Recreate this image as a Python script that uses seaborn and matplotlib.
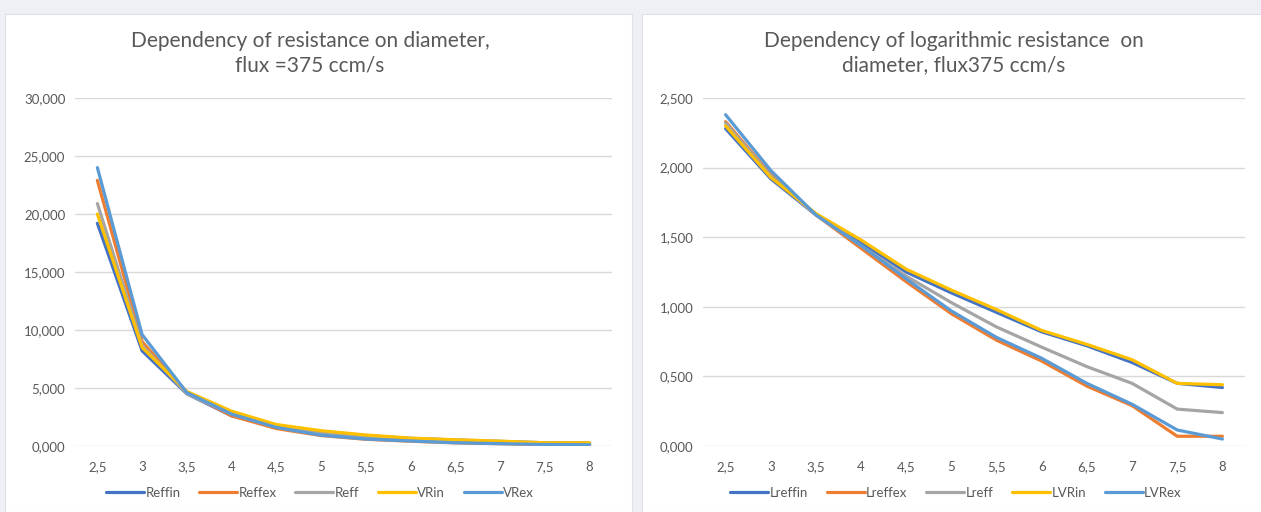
import matplotlib
matplotlib.use("Agg")
import matplotlib.pyplot as plt
from matplotlib.patches import Rectangle
from matplotlib.ticker import FuncFormatter
import seaborn as sns
import pandas as pd

# datos
diametro = [2.5, 3, 3.5, 4, 4.5, 5, 5.5, 6, 6.5, 7, 7.5, 8]
etiquetas_x = ["2,5", "3", "3,5", "4", "4,5", "5", "5,5", "6", "6,5", "7", "7,5", "8"]

reffin = [19.2, 8.2, 4.5, 2.6, 1.7, 1.25, 0.9, 0.66, 0.52, 0.40, 0.28, 0.26]
reffex = [22.9, 9.0, 4.6, 2.6, 1.5, 0.9, 0.58, 0.41, 0.27, 0.20, 0.12, 0.12]
reff = [20.9, 8.7, 4.5, 2.75, 1.65, 1.07, 0.72, 0.51, 0.37, 0.28, 0.18, 0.17]
vrin = [20.0, 8.5, 4.7, 3.0, 1.85, 1.32, 0.95, 0.68, 0.54, 0.42, 0.28, 0.275]
vrex = [24.0, 9.6, 4.6, 2.75, 1.6, 0.93, 0.6, 0.43, 0.28, 0.20, 0.13, 0.11]

lreffin = [2.28, 1.92, 1.66, 1.46, 1.25, 1.10, 0.96, 0.82, 0.72, 0.60, 0.45, 0.42]
lreffex = [2.33, 1.95, 1.66, 1.42, 1.18, 0.95, 0.76, 0.61, 0.43, 0.29, 0.07, 0.07]
lreff = [2.32, 1.94, 1.66, 1.44, 1.22, 1.03, 0.855, 0.71, 0.57, 0.45, 0.265, 0.24]
lvrin = [2.30, 1.93, 1.67, 1.48, 1.27, 1.12, 0.98, 0.83, 0.73, 0.62, 0.45, 0.44]
lvrex = [2.38, 1.98, 1.66, 1.44, 1.20, 0.97, 0.78, 0.63, 0.45, 0.30, 0.115, 0.05]

series_izq = {"Reffin": reffin, "Reffex": reffex, "Reff": reff, "VRin": vrin, "VRex": vrex}
series_der = {"Lreffin": lreffin, "Lreffex": lreffex, "Lreff": lreff, "LVRin": lvrin, "LVRex": lvrex}
colores = ["#4472C4", "#ED7D31", "#A5A5A5", "#FFC000", "#5B9BD5"]

sns.set_style("white")
plt.rcParams["font.family"] = ["Lato", "DejaVu Sans"]
GRIS = "#595959"

W, H = 1261, 512
fig = plt.figure(figsize=(W / 100, H / 100), dpi=100, facecolor="#eef0f5")

# paneles blancos tipo Excel (detras de los ejes)
for x0, x1 in [(5, 632), (642, 1262)]:
    fig.patches.append(Rectangle((x0 / W, 0), (x1 - x0) / W, 1 - 14 / H,
                                 transform=fig.transFigure, facecolor="white",
                                 edgecolor="#dfe1e6", lw=0.8, zorder=-5))


def a_largo(series):
    filas = []
    for nombre, valores in series.items():
        for d, v in zip(diametro, valores):
            filas.append({"diametro": d, "valor": v, "serie": nombre})
    return pd.DataFrame(filas)


def dibujar(rect, series, ymax, paso, titulo, xtitulo, xleyenda):
    ax = fig.add_axes(rect)
    ax.set_facecolor("none")
    df = a_largo(series)
    sns.lineplot(data=df, x="diametro", y="valor", hue="serie", palette=colores,
                 linewidth=2.3, ax=ax, legend=True)
    ax.set_xlim(2.25, 8.25)
    ax.set_ylim(0, ymax)
    ax.set_yticks([paso * i for i in range(int(round(ymax / paso)) + 1)])
    ax.yaxis.set_major_formatter(FuncFormatter(lambda v, p: f"{v:.3f}".replace(".", ",")))
    ax.set_xticks(diametro)
    ax.set_xticklabels(etiquetas_x)
    ax.set_xlabel("")
    ax.set_ylabel("")
    ax.grid(axis="y", color="#d9d9d9", lw=1)
    ax.set_axisbelow(True)
    for s in ax.spines.values():
        s.set_visible(False)
    ax.tick_params(length=0, labelsize=9.5, colors=GRIS, pad=7)
    ax.tick_params(axis="x", pad=11)
    # leyenda centrada en el panel
    ax.legend(loc="center", bbox_to_anchor=(xleyenda / W, 1 - 493 / H),
              bbox_transform=fig.transFigure, ncol=5, frameon=False,
              fontsize=9.5, labelcolor=GRIS, handlelength=2.9, handletextpad=0.1,
              columnspacing=1.4)
    fig.text(xtitulo / W, 1 - 53 / H, titulo, ha="center", va="center", fontsize=15,
             color=GRIS, linespacing=1.3)
    return ax


y0 = 1 - 446 / H
alto = (446 - 98) / H
dibujar([75 / W, y0, (612 - 75) / W, alto], series_izq, 30, 5,
        "Dependency of resistance on diameter,\nflux =375 ccm/s", 310, 320)
dibujar([703 / W, y0, (1245 - 703) / W, alto], series_der, 2.5, 0.5,
        "Dependency of logarithmic resistance  on\ndiameter, flux375 ccm/s", 954, 956)

fig.savefig("out.png", dpi=100, facecolor=fig.get_facecolor())
